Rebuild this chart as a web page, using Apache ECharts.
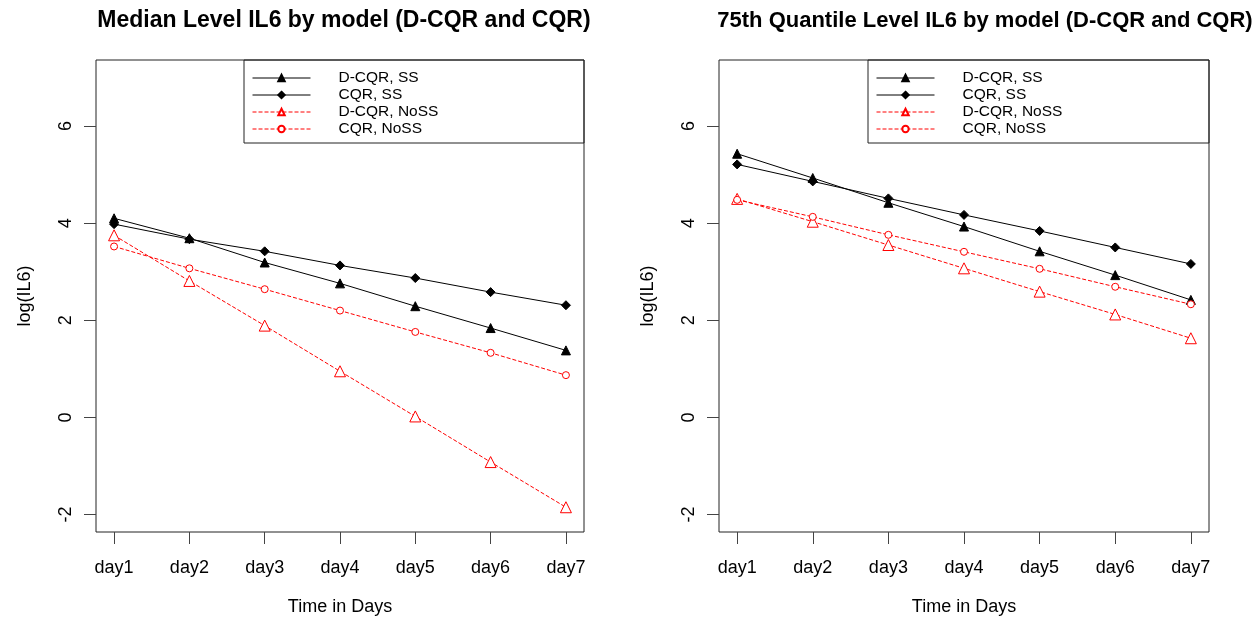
<!DOCTYPE html>
<html>
<head>
<meta charset="utf-8">
<script src="https://cdn.jsdelivr.net/npm/echarts@6/dist/echarts.min.js"></script>
<style>
  html, body { margin: 0; padding: 0; background: #fff; }
  #main { width: 1257px; height: 626px; }
</style>
</head>
<body>
<div id="main"></div>
<script>
var days = ['day1', 'day2', 'day3', 'day4', 'day5', 'day6', 'day7']
var yTicks = [-2, 0, 2, 4, 6]
var names = ['D-CQR, SS', 'CQR, SS', 'D-CQR, NoSS', 'CQR, NoSS']

// median panel
var medDcqrSS = [4.10, 3.69, 3.19, 2.76, 2.29, 1.84, 1.38]
var medCqrSS = [3.98, 3.67, 3.42, 3.13, 2.87, 2.58, 2.31]
var medDcqrNoSS = [3.75, 2.81, 1.89, 0.95, 0.02, -0.92, -1.85]
var medCqrNoSS = [3.52, 3.07, 2.64, 2.20, 1.76, 1.33, 0.87]

// 75th quantile panel
var q75DcqrSS = [5.43, 4.93, 4.42, 3.93, 3.42, 2.93, 2.42]
var q75CqrSS = [5.21, 4.86, 4.51, 4.17, 3.84, 3.50, 3.16]
var q75DcqrNoSS = [4.50, 4.03, 3.55, 3.07, 2.59, 2.12, 1.63]
var q75CqrNoSS = [4.48, 4.13, 3.76, 3.41, 3.06, 2.69, 2.33]

var FONT = 'Liberation Sans, Arial, sans-serif'

function pts(arr) {
  return arr.map(function (v, i) { return [i + 1, v] })
}

// r style: black solid with filled marks, red dashed with open marks
var styles = [
  { symbol: 'triangle', size: 9, color: '#000', fill: '#000', type: 'solid' },
  { symbol: 'diamond', size: 9, color: '#000', fill: '#000', type: 'solid' },
  { symbol: 'triangle', size: 11, color: '#ff0000', fill: '#fff', type: 'dashed' },
  { symbol: 'circle', size: 7, color: '#ff0000', fill: '#fff', type: 'dashed' }
]

function makeSeries(idx, sets) {
  return sets.map(function (arr, k) {
    var s = styles[k]
    return {
      name: names[k],
      type: 'line',
      xAxisIndex: idx,
      yAxisIndex: idx,
      data: pts(arr),
      symbol: s.symbol,
      symbolSize: s.size,
      showAllSymbol: true,
      lineStyle: { color: s.color, width: 1, type: s.type },
      itemStyle: { color: s.fill, borderColor: s.color, borderWidth: 1 },
      emphasis: { disabled: true },
      animation: false
    }
  })
}

function xAxis(idx) {
  return {
    gridIndex: idx,
    type: 'value',
    min: 0.76,
    max: 7.24,
    axisLine: { show: false, onZero: false },
    splitLine: { show: false },
    axisTick: { show: true, length: 12, lineStyle: { color: '#444' }, customValues: [1, 2, 3, 4, 5, 6, 7] },
    axisLabel: {
      customValues: [1, 2, 3, 4, 5, 6, 7],
      formatter: function (v) { return days[Math.round(v) - 1] },
      color: '#000', fontSize: 18, fontFamily: FONT, margin: 27
    },
    name: 'Time in Days',
    nameLocation: 'middle',
    nameGap: 66,
    nameTextStyle: { color: '#000', fontSize: 18, fontFamily: FONT }
  }
}

function yAxis(idx) {
  return {
    gridIndex: idx,
    type: 'value',
    min: -2.36,
    max: 7.36,
    axisLine: { show: false, onZero: false },
    splitLine: { show: false },
    axisTick: { show: true, length: 12, lineStyle: { color: '#444' }, customValues: yTicks },
    axisLabel: {
      customValues: yTicks,
      rotate: 90,
      color: '#000', fontSize: 18, fontFamily: FONT, margin: 21
    },
    name: 'log(IL6)',
    nameLocation: 'middle',
    nameRotate: 90,
    nameGap: 62,
    nameTextStyle: { color: '#000', fontSize: 18, fontFamily: FONT }
  }
}

function legend(left) {
  return {
    orient: 'vertical',
    left: left,
    top: 70,
    padding: 0,
    itemGap: 1,
    itemWidth: 58,
    itemHeight: 8,
    selectedMode: false,
    data: names,
    lineStyle: { width: 1 },
    textStyle: { color: '#000', fontSize: 15.5, fontFamily: FONT, lineHeight: 16, padding: [0, 0, 0, 23] }
  }
}

var chart = echarts.init(document.getElementById('main'))
chart.setOption({
  backgroundColor: '#fff',
  animation: false,
  title: [
    {
      text: 'Median Level IL6 by model (D-CQR and CQR)',
      left: 339, top: 4, textAlign: 'center',
      textStyle: { fontSize: 23, fontWeight: 'bold', color: '#000', fontFamily: FONT }
    },
    {
      text: '75th Quantile Level IL6 by model (D-CQR and CQR)',
      left: 980, top: 5, textAlign: 'center',
      textStyle: { fontSize: 22, fontWeight: 'bold', color: '#000', fontFamily: FONT }
    }
  ],
  grid: [
    { left: 96, right: 1257 - 584, top: 60, bottom: 94, show: true, borderColor: '#222', borderWidth: 1, backgroundColor: 'transparent' },
    { left: 719, right: 1257 - 1209, top: 60, bottom: 94, show: true, borderColor: '#222', borderWidth: 1, backgroundColor: 'transparent' }
  ],
  xAxis: [xAxis(0), xAxis(1)],
  yAxis: [yAxis(0), yAxis(1)],
  legend: [legend(252), legend(876)],
  graphic: [
    { type: 'rect', shape: { x: 244, y: 60, width: 340, height: 83 }, style: { fill: 'none', stroke: '#222', lineWidth: 1 }, z: 10 },
    { type: 'rect', shape: { x: 868, y: 60, width: 341, height: 83 }, style: { fill: 'none', stroke: '#222', lineWidth: 1 }, z: 10 }
  ],
  series: makeSeries(0, [medDcqrSS, medCqrSS, medDcqrNoSS, medCqrNoSS])
    .concat(makeSeries(1, [q75DcqrSS, q75CqrSS, q75DcqrNoSS, q75CqrNoSS]))
})
</script>
</body>
</html>
